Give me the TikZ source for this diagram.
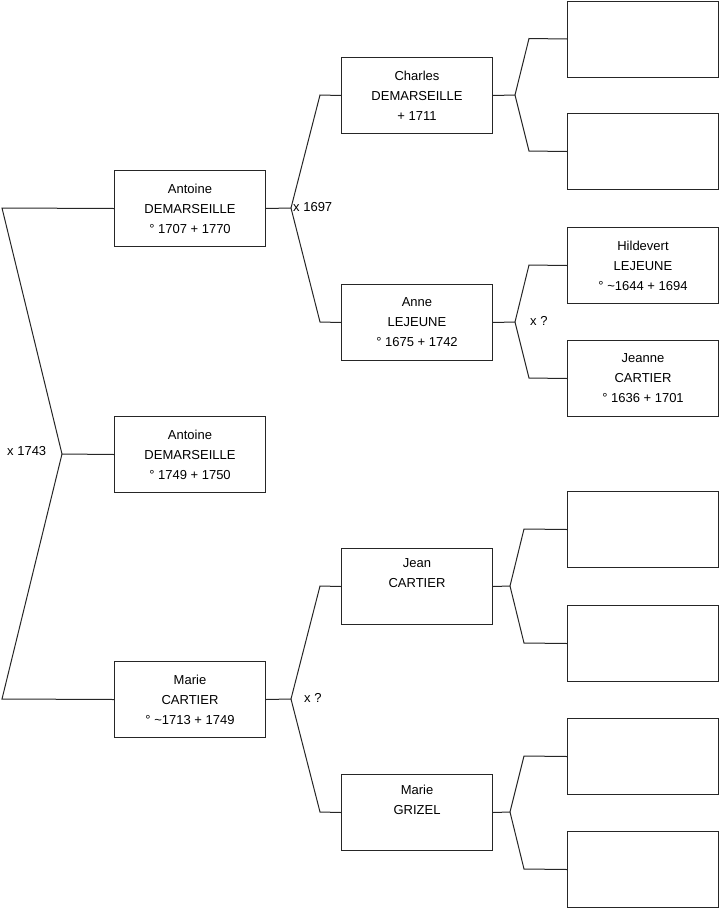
\documentclass[tikz,border=0pt]{standalone}
\usepackage{fontspec}
\setmainfont{Liberation Sans}
\begin{document}
\begin{tikzpicture}[x=1pt,y=-1pt,
  person/.style={draw=black!85, line width=1pt, minimum width=151pt, minimum height=76pt,
    inner sep=0pt, align=center, anchor=north west, font=\fontsize{13}{20}\selectfont},
  link/.style={draw=black!85, line width=1pt},
  lbl/.style={anchor=west, inner sep=0pt, font=\fontsize{13}{16}\selectfont}]
\useasboundingbox (0,0) rectangle (719,908);
% generation 1
\node[person] (A1) at (114,170) {Antoine\\DEMARSEILLE\\° 1707 + 1770};
\node[person] (A2) at (114,416) {Antoine\\DEMARSEILLE\\° 1749 + 1750};
\node[person] (M1) at (114,661) {Marie\\CARTIER\\° \textasciitilde1713 + 1749};
% generation 2
\node[person] (C)  at (341,57)  {Charles\\DEMARSEILLE\\+ 1711};
\node[person] (AL) at (341,284) {Anne\\LEJEUNE\\° 1675 + 1742};
\node[person] (J)  at (341,548) {Jean\\CARTIER\\\strut};
\node[person] (MG) at (341,774) {Marie\\GRIZEL\\\strut};
% generation 3
\node[person] (R1) at (567,0.5) {};
\node[person] (R2) at (567,113) {};
\node[person] (R3) at (567,227) {Hildevert\\LEJEUNE\\° \textasciitilde1644 + 1694};
\node[person] (R4) at (567,340) {Jeanne\\CARTIER\\° 1636 + 1701};
\node[person] (R5) at (567,491) {};
\node[person] (R6) at (567,605) {};
\node[person] (R7) at (567,718) {};
\node[person] (R8) at (567,831) {};
% fork points
\coordinate (l0) at (62,454);
\coordinate (lu) at (2,208);
\coordinate (ld) at (2,699);
\coordinate (f1) at (291,208); \coordinate (f1u) at (320,95);  \coordinate (f1d) at (320,322);
\coordinate (f2) at (291,699); \coordinate (f2u) at (320,586); \coordinate (f2d) at (320,812);
\coordinate (f3) at (515,95);  \coordinate (f3u) at (529,38.5); \coordinate (f3d) at (529,151);
\coordinate (f4) at (515,322); \coordinate (f4u) at (529,265); \coordinate (f4d) at (529,378);
\coordinate (f5) at (510,586); \coordinate (f5u) at (524,529); \coordinate (f5d) at (524,643);
\coordinate (f6) at (510,812); \coordinate (f6u) at (524,756); \coordinate (f6d) at (524,869);
% connectors
\draw[link] (A2.west) -- (l0) -- (lu) -- (A1.west);
\draw[link] (l0) -- (ld) -- (M1.west);
\draw[link] (A1.east) -- (f1) -- (f1u) -- (C.west);
\draw[link] (f1) -- (f1d) -- (AL.west);
\draw[link] (M1.east) -- (f2) -- (f2u) -- (J.west);
\draw[link] (f2) -- (f2d) -- (MG.west);
\draw[link] (C.east) -- (f3) -- (f3u) -- (R1.west);
\draw[link] (f3) -- (f3d) -- (R2.west);
\draw[link] (AL.east) -- (f4) -- (f4u) -- (R3.west);
\draw[link] (f4) -- (f4d) -- (R4.west);
\draw[link] (J.east) -- (f5) -- (f5u) -- (R5.west);
\draw[link] (f5) -- (f5d) -- (R6.west);
\draw[link] (MG.east) -- (f6) -- (f6u) -- (R7.west);
\draw[link] (f6) -- (f6d) -- (R8.west);
% marriage labels
\node[lbl] (m1) at (7,451) {x 1743};
\node[lbl] (m2) at (293,207) {x 1697};
\node[lbl] (m3) at (304,698) {x ?};
\node[lbl] (m4) at (530,321) {x ?};
\end{tikzpicture}
\end{document}
